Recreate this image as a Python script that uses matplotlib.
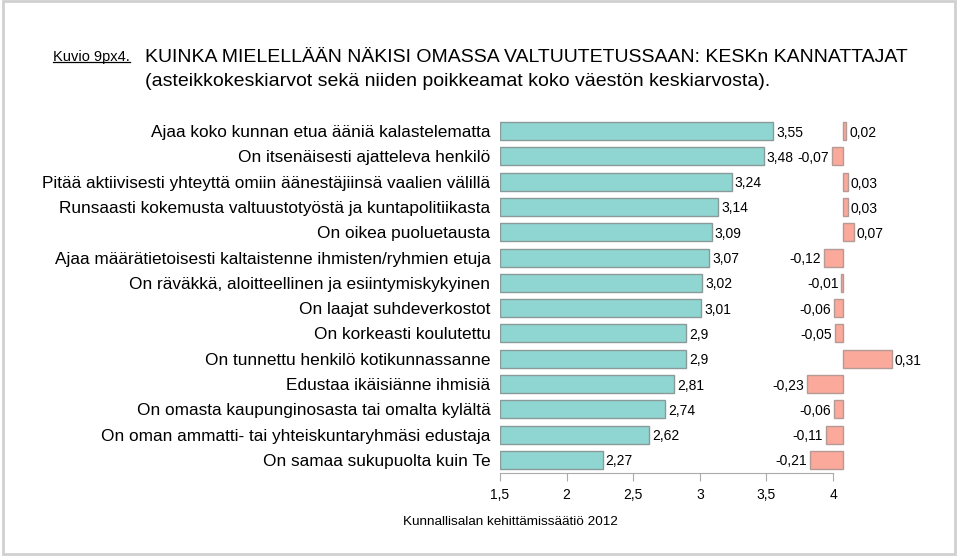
import matplotlib.pyplot as plt
from matplotlib.patches import Rectangle
from matplotlib.transforms import offset_copy

plt.rcParams['font.family'] = ['Liberation Sans', 'DejaVu Sans']

categories = [
    "Ajaa koko kunnan etua ääniä kalastelematta",
    "On itsenäisesti ajatteleva henkilö",
    "Pitää aktiivisesti yhteyttä omiin äänestäjiinsä vaalien välillä",
    "Runsaasti kokemusta valtuustotyöstä ja kuntapolitiikasta",
    "On oikea puoluetausta",
    "Ajaa määrätietoisesti kaltaistenne ihmisten/ryhmien etuja",
    "On räväkkä, aloitteellinen ja esiintymiskykyinen",
    "On laajat suhdeverkostot",
    "On korkeasti koulutettu",
    "On tunnettu henkilö kotikunnassanne",
    "Edustaa ikäisiänne ihmisiä",
    "On omasta kaupunginosasta tai omalta kylältä",
    "On oman ammatti- tai yhteiskuntaryhmäsi edustaja",
    "On samaa sukupuolta kuin Te",
]
means = [3.55, 3.48, 3.24, 3.14, 3.09, 3.07, 3.02, 3.01, 2.9, 2.9, 2.81, 2.74, 2.62, 2.27]
deviations = [0.02, -0.07, 0.03, 0.03, 0.07, -0.12, -0.01, -0.06, -0.05, 0.31,
              -0.23, -0.06, -0.11, -0.21]
xticks = [1.5, 2, 2.5, 3, 3.5, 4]

W, H = 960, 558
fig = plt.figure(figsize=(W / 100, H / 100), dpi=100)


def fx(px):
    return px / W


def fy(px):
    return 1 - px / H


n = len(categories)
rows = list(range(n))
row_px = 25.3
top_px, bot_px = 118, 473
ylim = (n - 1 + (bot_px - 460) / row_px, -(131 - top_px) / row_px)

ax = fig.add_axes([fx(500), fy(bot_px), fx(333), (bot_px - top_px) / H])
ax.barh(rows, [m - 1.5 for m in means], left=1.5, height=0.71,
        color='#8fd6d2', edgecolor='#8a9a99', linewidth=1)
ax.set_xlim(1.5, 4)
ax.set_ylim(*ylim)
for s in ['top', 'right', 'left']:
    ax.spines[s].set_visible(False)
ax.spines['bottom'].set_bounds(1.5, 4)
ax.spines['bottom'].set_color('#aaaaaa')
ax.set_xticks(xticks)
ax.set_xticklabels([('%g' % t).replace('.', ',') for t in xticks], fontsize=10)
ax.tick_params(axis='x', direction='out', length=6, color='#aaaaaa', pad=5)
ax.set_yticks(rows)
ax.set_yticklabels(categories, fontsize=12.4)
ax.tick_params(axis='y', length=0, pad=7)

lab_tr = offset_copy(ax.transData, fig=fig, x=3, y=-1.5, units='dots')
for r, m in zip(rows, means):
    ax.text(m, r, ('%g' % m).replace('.', ','), transform=lab_tr,
            ha='left', va='center', fontsize=10, clip_on=False)

# deviation bars: zero at 843 px, ~157 px per unit
dscale = 157.0
dleft, dright = 790, 900
ax2 = fig.add_axes([fx(dleft), fy(bot_px), fx(dright - dleft), (bot_px - top_px) / H])
ax2.set_xlim((dleft - 843) / dscale, (dright - 843) / dscale)
ax2.set_ylim(*ylim)
ax2.axis('off')
ax2.patch.set_alpha(0)
ax2.barh(rows, deviations, height=0.71, color='#faa99a', edgecolor='#b59a96',
         linewidth=1, clip_on=False)
pos_tr = offset_copy(ax2.transData, fig=fig, x=3, y=-2, units='dots')
neg_tr = offset_copy(ax2.transData, fig=fig, x=-3, y=-1.5, units='dots')
for r, d in zip(rows, deviations):
    txt = ('%.2f' % d).replace('.', ',')
    if d >= 0:
        ax2.text(d, r, txt, transform=pos_tr, ha='left', va='center',
                 fontsize=10, clip_on=False)
    else:
        ax2.text(d, r, txt, transform=neg_tr, ha='right', va='center',
                 fontsize=10, clip_on=False)

# titles
fig.text(fx(145), fy(57), "KUINKA MIELELLÄÄN NÄKISI OMASSA VALTUUTETUSSAAN: KESKn KANNATTAJAT",
         fontsize=14, va='center', ha='left')
fig.text(fx(145), fy(82), "(asteikkokeskiarvot sekä niiden poikkeamat koko väestön keskiarvosta).",
         fontsize=14, va='center', ha='left')
kuvio = fig.text(fx(53), fy(57), "Kuvio 9px4.", fontsize=10.5, va='center', ha='left')
fig.canvas.draw()
bb = kuvio.get_window_extent().transformed(fig.transFigure.inverted())
fig.add_artist(plt.Line2D([bb.x0, bb.x1], [bb.y0 + 0.004, bb.y0 + 0.004],
                          transform=fig.transFigure, color='black', linewidth=0.9))

fig.text(fx(510), fy(522), "Kunnallisalan kehittämissäätiö 2012", fontsize=9.7,
         ha='center', va='center')

# light grey frame
fig.add_artist(Rectangle((fx(3), fy(554)), fx(952), (554 - 1) / H,
                         transform=fig.transFigure, fill=False,
                         edgecolor='#d0d0d0', linewidth=2))

fig.savefig('out.png', dpi=100)
